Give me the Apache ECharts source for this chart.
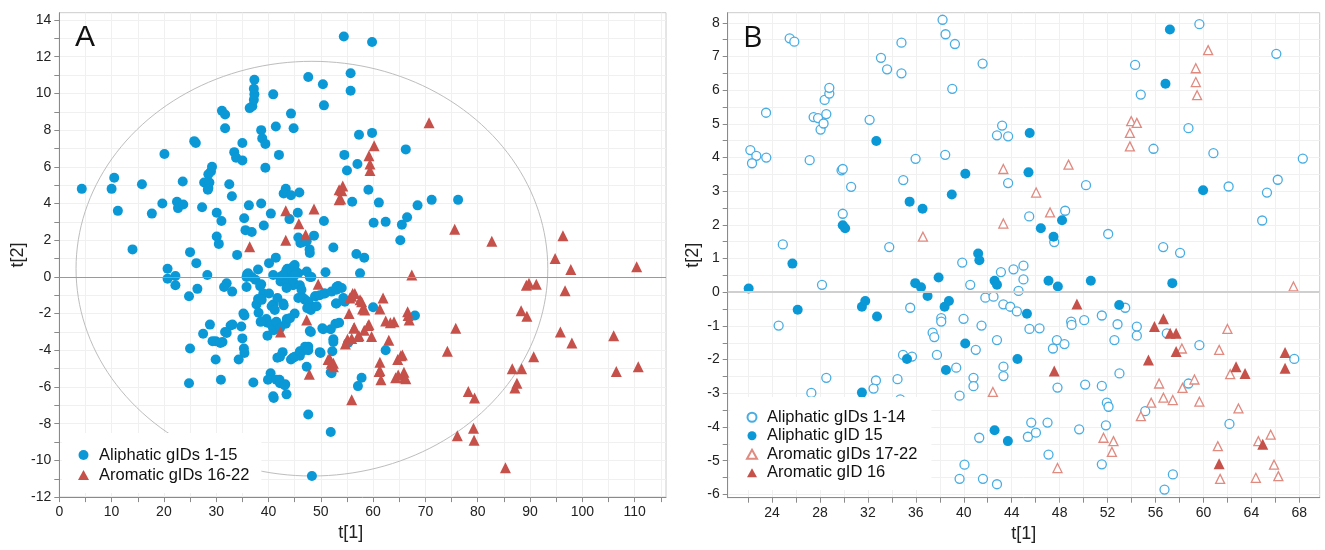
<!DOCTYPE html>
<html>
<head>
<meta charset="utf-8">
<script src="https://cdn.jsdelivr.net/npm/echarts@6/dist/echarts.min.js"></script>
<style>
  html, body { margin: 0; padding: 0; background: #fff; }
  #grafica { width: 1325px; height: 550px; }
</style>
</head>
<body>
<div id="grafica"></div>
<script>
// Panel A - scores t[1] / t[2]
const aliphaticA = [
  [4.3,4.8],[10.0,4.8],[10.5,5.4],[11.2,3.6],[15.8,5.05],[17.7,3.45],[19.7,4.0],[20.1,6.7],[14.0,1.5],[22.5,4.1],[22.7,3.75],[23.7,3.95],[23.6,5.2],[25.8,7.4],[26.1,7.3],[27.3,3.8],[27.7,5.15],[28.5,4.85],[28.7,5.15],[28.4,4.75],[29.0,5.75],[29.2,6.0],[28.5,5.6],[30.1,3.5],[31.0,3.05],[30.1,2.2],[30.5,1.8],[31.1,9.05],[31.7,8.85],[31.7,8.1],[34.0,1.2],[25.0,1.35],[26.2,0.75],[28.3,0.1],[20.7,0.45],[22.2,0.05],[32.5,5.05],[33.0,4.4],[33.45,6.8],[33.8,6.5],[35.0,6.35],[35.0,7.3],[36.25,3.9],[35.35,3.2],[35.6,2.55],[36.8,2.45],[38.6,4.0],[39.1,2.8],[40.45,3.45],[36.9,9.3],[37.2,9.65],[37.3,9.95],[37.2,10.25],[37.3,10.75],[36.4,9.2],[40.9,9.95],[38.6,8.0],[38.8,7.55],[39.4,7.25],[41.4,8.2],[42.0,6.65],[39.4,5.95],[44.3,8.9],[44.8,8.1],[47.6,10.9],[50.4,10.5],[50.6,9.35],[43.3,4.8],[42.9,4.55],[44.3,4.45],[45.9,4.6],[45.6,3.5],[44.0,3.15],[45.7,2.15],[46.6,1.9],[48.7,2.25],[47.85,1.5],[47.9,1.3],[50.6,3.05],[52.4,1.6],[41.4,1.05],[40.1,0.75],[38.0,0.4],[35.9,0.15],[40.9,0.1],[43.6,0.45],[45.0,0.65],[45.1,0.35],[50.9,0.25],
  [54.4,13.1],[59.8,12.8],[55.7,11.1],[55.7,10.15],[57.3,7.75],[59.8,7.85],[54.5,6.65],[57.0,6.15],[55.0,5.8],[66.25,6.95],[59.1,4.75],[56.0,4.1],[61.1,4.05],[68.5,3.9],[71.2,4.2],[76.25,4.2],[60.1,2.95],[62.4,3.0],[65.5,2.85],[66.5,3.25],[65.2,2.0],[56.8,1.25],[58.3,1.05],[57.5,0.2],
  [36.1,0.2],[36.8,0.0],[42.2,0.0],[44.1,0.1],[45.7,0.2],[44.7,0.55],[43.4,0.35],[46.1,1.85],[47.3,1.95],[47.3,0.3],[48.2,0.0],
  [20.7,-0.1],[22.2,-0.45],[24.8,-1.05],[26.4,-0.65],[32.0,-0.35],[31.5,-0.55],[33.05,-0.8],[35.8,-0.55],[37.5,-0.15],[38.6,-0.4],[39.0,-0.9],[38.0,-1.2],[37.7,-1.5],[40.1,-0.9],[40.9,-1.5],[42.8,-1.45],[42.3,-0.25],[43.5,-0.25],[44.7,-0.45],[46.3,-1.1],[48.2,-1.6],[48.1,-1.8],[49.05,-1.05],[50.6,-0.9],[53.0,-0.55],[35.2,-2.0],[35.4,-2.1],[38.1,-1.95],[39.6,-2.3],[39.8,-2.5],[38.5,-2.45],[40.9,-2.8],[39.8,-3.2],[41.0,-2.9],[43.3,-2.55],[43.5,-2.3],[45.0,-2.0],[47.9,-2.95],[50.3,-2.8],[51.9,-2.85],[52.8,-2.55],[52.4,-3.4],[52.4,-3.55],[52.2,-4.05],[49.8,-4.1],[47.5,-3.85],[46.3,-4.05],[46.0,-4.3],[44.7,-4.4],[44.3,-4.5],[42.7,-4.1],[41.7,-4.4],[47.3,-4.9],[51.9,-5.2],[40.4,-5.25],[39.9,-5.6],[42.1,-5.6],[43.2,-5.85],[43.45,-6.4],[41.0,-6.6],[37.1,-5.75],[35.0,-3.35],[35.3,-3.9],[35.4,-4.15],[34.8,-2.7],[34.3,-4.5],[32.75,-2.65],[31.7,-3.0],[31.2,-3.55],[29.9,-3.5],[29.3,-3.5],[27.5,-3.1],[28.8,-2.6],[29.9,-4.5],[30.9,-5.6],[25.0,-3.9],[24.8,-5.8],[47.6,-7.5],[51.9,-8.45],[48.3,-10.85],
  [53.3,-0.5],[52.9,-1.45],[54.6,-1.35],[60.0,-1.65],[53.5,-2.5],[62.4,-4.0],[68.0,-2.1],[57.8,-5.5],[57.1,-5.95],
  [35.8,0.0],[38.4,-0.5],[38.7,-1.25],[41.7,-1.15],[42.9,-1.55],[40.6,-1.6],[41.2,-1.8],[40.6,-2.6],[41.5,-2.45],[42.2,-2.8],[44.1,-2.25],[45.7,-1.15],[44.7,-0.25],[42.8,0.1],[45.0,0.1],[43.45,-0.6],[46.0,-0.45],[47.0,-1.25],[47.4,-1.7],[30.8,-3.6],[32.0,-3.05],[33.1,-2.6],[41.5,-5.6],[42.2,-5.8],[43.1,-5.9],[40.9,-6.5],[42.2,-4.35],[45.0,-4.35],[46.0,-4.05],[46.75,-4.0],[47.6,-3.8],
  [47.9,0.0],[46.3,-0.7],[46.6,-1.15],[47.6,-1.35],[47.9,-1.7],[49.2,-1.6],[48.9,-1.05],[49.8,-1.0],[50.8,-0.9],[52.05,-0.8],[53.0,-0.7],[54.0,-0.6],[53.0,-1.45],[54.3,-1.15],[48.1,-3.0],[50.45,-2.85],[47.0,-3.8],[47.6,-4.0],[49.95,-4.15],[52.05,-5.25],[55.2,-3.6],
];
const aromaticA = [
  [36.4,1.65],[43.3,3.6],[43.3,2.0],[45.8,2.9],[47.1,2.3],[48.7,3.7],[53.5,4.75],[53.5,4.2],[70.7,8.4],[60.2,7.15],[59.2,6.6],[59.4,6.15],[59.4,5.8],[54.2,4.95],[54.0,4.7],[53.8,4.25],[75.6,2.6],[82.7,1.95],[96.3,2.25],[94.8,1.0],[97.8,0.4],[110.4,0.55],[67.4,0.1],
  [49.5,-0.4],[47.3,-2.35],[42.3,-3.0],[47.8,-5.3],[51.7,-4.45],[52.0,-4.7],
  [55.9,-1.05],[56.1,-0.9],[57.5,-1.25],[58.0,-1.75],[61.9,-1.15],[61.3,-1.75],[55.4,-2.0],[66.6,-1.9],[66.7,-2.1],[62.4,-2.4],[64.0,-2.45],[59.2,-2.6],[56.3,-2.8],[58.3,-2.9],[57.3,-3.2],[59.7,-3.25],[55.1,-3.4],[54.7,-3.65],[63.0,-3.45],[75.8,-2.8],[74.2,-4.05],[64.7,-4.5],[65.3,-4.3],[61.3,-4.65],[61.3,-5.1],[61.5,-5.6],[64.3,-5.5],[65.9,-5.2],[66.0,-5.5],[55.9,-6.7],[78.2,-6.25],[79.4,-6.6],[76.1,-8.65],[79.2,-8.25],[79.3,-8.9],[85.3,-10.4],[86.6,-5.0],[88.4,-5.0],[87.1,-6.05],[87.5,-5.8],[90.7,-4.35],[88.3,-1.85],[89.4,-2.15],[89.3,-0.45],[89.8,-0.35],[91.2,-0.4],[96.7,-0.75],[95.8,-3.0],[98.0,-3.6],[106.0,-3.2],[106.5,-5.15],[110.7,-4.9],
  [56.5,-0.9],[55.55,-1.15],[57.8,-1.35],[58.4,-1.8],[63.3,-2.5],[66.9,-2.35],[56.4,-2.75],[59.05,-2.65],[55.9,-3.35],[57.1,-3.25],[52.4,-4.7],[52.4,-4.9],[51.4,-4.5],[61.15,-5.15],[64.8,-5.35],[65.6,-4.25],[66.25,-5.55],
];
// Hotelling ellipse: centre x, centre y, half width, half height
const ellipseA = [[48.3, 0.45, 45.1, 11.3]];

// Panel B - zoom on the centre
const aliphaticB = [
  [25.47,7.54],[25.86,7.44],[22.19,4.22],[22.69,4.05],[22.33,3.83],[23.52,4.0],[23.5,5.33],[27.14,3.92],[27.47,5.2],[27.84,5.17],[28.05,4.83],[28.3,5.01],[28.53,5.29],[28.39,5.71],[28.78,5.9],[28.78,6.07],[29.8,3.62],[29.9,3.66],[29.9,2.33],[30.6,3.13],[24.9,1.42],[32.14,5.12],[33.09,6.96],[33.6,6.62],[34.8,7.41],[34.8,6.5],[33.78,1.34],[34.95,3.33],[35.98,3.96],[38.23,8.09],[38.48,7.66],[39.26,7.37],[39.04,6.04],[38.45,4.08],[41.57,6.79],[39.87,0.88],[43.1,0.6],[42.77,4.66],[43.2,4.95],[43.7,4.63],[43.7,3.24],
  [59.66,7.96],[66.08,7.08],[54.3,6.75],[54.77,5.87],[58.75,4.87],[55.83,4.26],[60.83,4.13],[68.29,3.97],[50.2,3.18],[62.1,3.14],[66.2,3.34],[65.3,2.96],[64.9,2.13],[45.46,2.25],[48.46,2.42],[47.55,1.49],[52.05,1.73],[56.64,1.34],[58.05,1.17],[44.98,0.79],[44.15,0.68],[44.98,0.38],
  [28.17,0.22],[24.55,-0.99],[27.28,-2.99],[28.53,-2.54],[32.67,-2.62],[32.47,-2.86],[34.47,-2.58],[34.7,-3.18],[34.93,-1.86],[35.68,-1.91],[35.53,-0.46],[37.4,-1.2],[37.54,-1.33],[37.76,-1.86],[38.12,-0.77],[38.12,-0.87],[39.98,-0.79],[41.48,-0.99],[41.8,-0.16],[42.48,-0.13],[40.54,0.22],[43.3,-0.36],[43.88,-0.43],[42.77,-1.42],[41.0,-1.71],[39.37,-2.24],[40.81,-2.54],[40.81,-2.79],[39.65,-3.07],[43.31,-2.21],[43.31,-2.49],[41.29,-4.32],[40.06,-5.12],[39.65,-5.54],[41.6,-5.54],[42.77,-5.7],
  [44.57,0.04],[44.43,-0.57],[45.48,-1.09],[46.32,-1.07],[48.96,-0.87],[49.0,-0.97],[50.05,-0.83],[51.52,-0.69],[52.83,-0.95],[54.44,-1.02],[54.44,-1.29],[53.47,-0.46],[56.94,-1.22],[59.66,-1.57],[52.57,-1.42],[47.77,-1.42],[47.44,-1.67],[48.4,-1.54],[47.82,-2.83],[50.13,-2.74],[51.52,-2.78],[52.99,-2.41],[51.94,-3.28],[52.08,-3.4],[51.86,-3.95],[49.63,-4.07],[45.63,-3.87],[46.99,-3.87],[45.35,-4.29],[46.02,-4.17],[47.07,-4.82],[51.52,-5.11],[55.14,-3.53],[58.75,-2.71],[62.17,-3.91],[57.45,-5.41],[56.75,-5.86],[67.58,-1.98],
];
const aliphatic15B = [
  [32.7,4.49],[29.9,1.99],[30.1,1.9],[25.7,0.85],[35.48,2.69],[36.56,2.48],[39.0,2.9],[40.13,3.52],[41.2,1.15],[41.3,0.95],
  [57.2,7.8],[56.83,6.19],[45.5,4.73],[45.4,3.56],[59.97,3.03],[48.2,2.14],[46.43,1.9],[47.49,1.65],[47.07,0.34],[50.6,0.34],[57.4,0.27],
  [22.05,0.11],[26.14,-0.52],[31.5,-0.43],[31.78,-0.26],[32.76,-0.72],[35.95,0.27],[36.43,0.15],[36.98,-0.11],[37.9,0.44],[38.4,-0.43],[38.76,-0.26],[40.12,-1.52],[35.26,-1.98],[38.51,-2.31],[31.5,-2.98],[42.57,0.34],[42.77,0.22],[42.57,-4.1],[43.68,-4.42],
  [47.85,0.17],[52.97,-0.38],[45.27,-0.64],[44.48,-1.98],
];
const aromaticB = [
  [36.59,1.65],[43.3,3.66],[43.3,2.04],[60.39,7.19],[59.36,6.65],[59.36,6.24],[59.47,5.85],[53.97,5.08],[54.44,5.03],[53.86,4.73],[53.86,4.33],[48.74,3.79],[46.04,2.96],[47.2,2.37],[42.43,-2.96],
  [67.51,0.17],[62.0,-1.09],[58.2,-1.67],[61.31,-1.71],[62.23,-2.43],[59.25,-2.59],[58.25,-2.84],[56.3,-2.71],[56.66,-3.13],[57.44,-3.2],[55.64,-3.28],[59.66,-3.25],[54.78,-3.68],[62.92,-3.45],[51.66,-4.32],[52.49,-4.42],[52.36,-4.74],[47.82,-5.22],[61.2,-4.57],[61.39,-5.54],[64.58,-4.42],[65.61,-4.23],[65.89,-5.12],[64.37,-5.51],[66.25,-5.46],
];
const aromatic16B = [
  [49.44,-0.35],[56.66,-0.79],[55.91,-1.02],[57.22,-1.22],[57.72,-1.22],[57.72,-1.76],[55.41,-2.01],[47.55,-2.34],[62.72,-2.21],[63.47,-2.41],[66.81,-1.79],[66.81,-2.26],[64.95,-4.51],[61.31,-5.09],
];

// tick positions and labels
const xLabelsA = [0, 10, 20, 30, 40, 50, 60, 70, 80, 90, 100, 110];
const xTicksA = [0, 5, 10, 15, 20, 25, 30, 35, 40, 45, 50, 55, 60, 65, 70, 75, 80, 85, 90, 95, 100, 105, 110, 115];
const yLabelsA = [-12, -10, -8, -6, -4, -2, 0, 2, 4, 6, 8, 10, 12, 14];
const yTicksA = [-12, -11, -10, -9, -8, -7, -6, -5, -4, -3, -2, -1, 0, 1, 2, 3, 4, 5, 6, 7, 8, 9, 10, 11, 12, 13, 14];
const xLabelsB = [24, 28, 32, 36, 40, 44, 48, 52, 56, 60, 64, 68];
const xTicksB = [22, 24, 26, 28, 30, 32, 34, 36, 38, 40, 42, 44, 46, 48, 50, 52, 54, 56, 58, 60, 62, 64, 66, 68];
const yLabelsB = [-6, -5, -4, -3, -2, -1, 0, 1, 2, 3, 4, 5, 6, 7, 8];
const yTicksB = [-6, -5.5, -5, -4.5, -4, -3.5, -3, -2.5, -2, -1.5, -1, -0.5, 0, 0.5, 1, 1.5, 2, 2.5, 3, 3.5, 4, 4.5, 5, 5.5, 6, 6.5, 7, 7.5, 8];

const BLUE = "#0a98d6";
const RED = "#c6504a";
const FONT = "Liberation Sans";

const makeAxis = (gridIndex, min, max, labels, ticks, name, gap, isX, namePad) => ({
  type: "value",
  gridIndex: gridIndex,
  min: min,
  max: max,
  name: name,
  nameLocation: "middle",
  nameGap: gap,
  nameRotate: isX ? 0 : 90,
  nameTextStyle: { fontFamily: FONT, fontSize: 18, color: "#222", padding: namePad || 0 },
  axisLine: { show: true, onZero: false, lineStyle: { color: "#8a8a8a", width: 1 } },
  axisTick: { show: true, length: 5, customValues: ticks, lineStyle: { color: "#8a8a8a" } },
  axisLabel: { customValues: labels, fontFamily: FONT, fontSize: 14, color: "#222", margin: 8 },
  splitLine: { show: true, lineStyle: { color: "#f0f0f0", width: 1 } },
});

const ellipseRender = (params, api) => {
  const cx = api.value(0), cy = api.value(1), rx = api.value(2), ry = api.value(3);
  const pts = [];
  for (let i = 0; i <= 180; i++) {
    const t = (i / 180) * 2 * Math.PI;
    pts.push(api.coord([cx + rx * Math.cos(t), cy + ry * Math.sin(t)]));
  }
  return {
    type: "polyline",
    shape: { points: pts },
    style: { stroke: "#bdbdbd", fill: null, lineWidth: 1 },
  };
};

const option = {
  animation: false,
  backgroundColor: "#fff",
  textStyle: { fontFamily: FONT },
  title: [
    { text: "A", left: 70, top: 18, textStyle: { fontFamily: FONT, fontSize: 30, fontWeight: "normal", color: "#111" } },
    { text: "B", left: 738, top: 18, textStyle: { fontFamily: "Open Sans", fontSize: 30, fontWeight: "normal", color: "#111" } },
  ],
  grid: [
    { left: 59.3, top: 12.7, width: 606.7, height: 484.4, show: true, borderColor: "#cccccc", borderWidth: 1, backgroundColor: "transparent" },
    { left: 727.7, top: 12.7, width: 592, height: 485, show: true, borderColor: "#cccccc", borderWidth: 1, backgroundColor: "transparent" },
  ],
  xAxis: [
    makeAxis(0, 0, 116, xLabelsA, xTicksA, "t[1]", 26, true, [0, 24, 0, 0]),
    makeAxis(1, 20.3, 69.7, xLabelsB, xTicksB, "t[1]", 26, true),
  ],
  yAxis: [
    makeAxis(0, -12, 14.4, yLabelsA, yTicksA, "t[2]", 32, false),
    makeAxis(1, -6.1, 8.3, yLabelsB, yTicksB, "t[2]", 26, false),
  ],
  legend: [
    {
      orient: "vertical",
      left: 62,
      top: 433,
      padding: [12, 12, 8, 16],
      itemGap: 0,
      itemWidth: 11,
      itemHeight: 10,
      backgroundColor: "#fff",
      textStyle: { fontFamily: FONT, fontSize: 16.5, color: "#111", lineHeight: 20, padding: [0, 0, 0, 5] },
      data: ["Aliphatic gIDs 1-15", "Aromatic gIDs 16-22"],
    },
    {
      orient: "vertical",
      left: 730,
      top: 397,
      padding: [11, 14, 8, 16],
      itemGap: 0,
      itemWidth: 10,
      itemHeight: 9,
      backgroundColor: "#fff",
      textStyle: { fontFamily: FONT, fontSize: 16.5, color: "#111", lineHeight: 18.5, padding: [0, 0, 0, 5] },
      data: ["Aliphatic gIDs 1-14", "Aliphatic gID 15", "Aromatic gIDs 17-22", "Aromatic gID 16"],
    },
  ],
  series: [
    {
      name: "ellipse",
      type: "custom",
      xAxisIndex: 0,
      yAxisIndex: 0,
      renderItem: ellipseRender,
      data: ellipseA,
      encode: { x: 0, y: 1 },
      silent: true,
      z: 1,
    },
    {
      name: "Aliphatic gIDs 1-15",
      type: "scatter",
      xAxisIndex: 0,
      yAxisIndex: 0,
      symbol: "circle",
      symbolSize: 10,
      itemStyle: { color: BLUE, opacity: 1 },
      data: aliphaticA,
      markLine: {
        silent: true,
        symbol: "none",
        label: { show: false },
        lineStyle: { color: "#9a9a9a", type: "solid", width: 1 },
        data: [{ yAxis: 0 }],
      },
    },
    {
      name: "Aromatic gIDs 16-22",
      type: "scatter",
      xAxisIndex: 0,
      yAxisIndex: 0,
      symbol: "triangle",
      symbolSize: 11,
      itemStyle: { color: RED, opacity: 1 },
      data: aromaticA,
    },
    {
      name: "Aliphatic gIDs 1-14",
      type: "scatter",
      xAxisIndex: 1,
      yAxisIndex: 1,
      symbol: "circle",
      symbolSize: 9,
      itemStyle: { color: "#fff", borderColor: "#48ade3", borderWidth: 1.3, opacity: 1 },
      data: aliphaticB,
      markLine: {
        silent: true,
        symbol: "none",
        label: { show: false },
        lineStyle: { color: "#cfcfcf", type: "solid", width: 2 },
        data: [{ yAxis: 0 }],
      },
    },
    {
      name: "Aromatic gIDs 17-22",
      type: "scatter",
      xAxisIndex: 1,
      yAxisIndex: 1,
      symbol: "triangle",
      symbolSize: 9,
      itemStyle: { color: "#fff", borderColor: "#e08a80", borderWidth: 1.3, opacity: 1 },
      data: aromaticB,
    },
    {
      name: "Aliphatic gID 15",
      type: "scatter",
      xAxisIndex: 1,
      yAxisIndex: 1,
      symbol: "circle",
      symbolSize: 10,
      itemStyle: { color: BLUE, opacity: 1 },
      data: aliphatic15B,
    },
    {
      name: "Aromatic gID 16",
      type: "scatter",
      xAxisIndex: 1,
      yAxisIndex: 1,
      symbol: "triangle",
      symbolSize: 11,
      itemStyle: { color: RED, opacity: 1 },
      data: aromatic16B,
    },
  ],
};

const createEcharts = () => {
  let myChart = echarts.init(document.querySelector("#grafica"), null, { renderer: "canvas" });
  myChart.setOption(option);
};

window.addEventListener("DOMContentLoaded", () => {
  createEcharts();
});
</script>
</body>
</html>
